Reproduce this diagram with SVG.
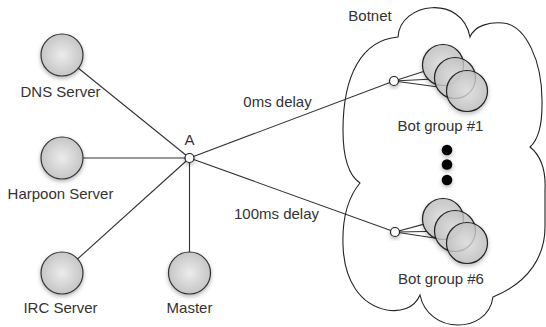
<svg xmlns="http://www.w3.org/2000/svg" width="546" height="327" viewBox="0 0 546 327">
  <defs>
    <radialGradient id="nodeFill" cx="50%" cy="50%" r="55%">
      <stop offset="0" stop-color="#ececec"/>
      <stop offset="1" stop-color="#c2c2c2"/>
    </radialGradient>
    <radialGradient id="botFill" cx="50%" cy="50%" r="55%">
      <stop offset="0" stop-color="#e4e4e4"/>
      <stop offset="1" stop-color="#bdbdbd"/>
    </radialGradient>
    <filter id="shadow" x="-50%" y="-50%" width="200%" height="200%">
      <feDropShadow dx="0" dy="2" stdDeviation="2" flood-color="#000" flood-opacity="0.3"/>
    </filter>
  </defs>
  <style>
    .label { font-family: "Liberation Sans", Arial, Helvetica, sans-serif; font-size: 15px; fill: #333; text-anchor: middle; }
    .node { fill: url(#nodeFill); stroke: #333; stroke-width: 1.2; filter: url(#shadow); }
    .bot { fill: url(#botFill); fill-opacity: 0.8; stroke: #222; stroke-width: 1.2; }
    .hub { fill: #fff; stroke: #222; stroke-width: 1.2; filter: url(#shadow); }
    .link { stroke: #333; stroke-width: 1.1; fill: none; }
    .dot { fill: #000; filter: url(#shadow); }
  </style>
  <rect width="546" height="327" fill="#fff"/>

  <!-- botnet cloud -->
  <g id="botnet">
    <path d="M 398,37 C 400,2 462,-6 470,37 C 475,25 490,22 503,23 C 525,25 543,60 542,105 C 542,125 538,140 530,147 C 540,155 546,170 545,190 L 545,227 C 545,255 530,282 493,297 C 490,318 472,325 458,325 C 440,325 424,314 420,295 C 414,309 400,312 387,310 C 360,305 344,280 343,245 C 342,215 350,195 360,183 C 348,175 343,155 343,130 C 343,75 362,40 398,37 Z" fill="none" stroke="#222" stroke-width="1.1"/>
    <text class="label" x="370" y="21">Botnet</text>
  </g>

  <!-- connectors -->
  <g id="connectors">
    <line class="link" x1="189.5" y1="158" x2="62" y2="55"/>
    <line class="link" x1="189.5" y1="158" x2="62" y2="158"/>
    <line class="link" x1="189.5" y1="158" x2="62" y2="273"/>
    <line class="link" x1="189.5" y1="158" x2="189.5" y2="273"/>
    <line class="link" x1="189.5" y1="158" x2="394" y2="81"/>
    <line class="link" x1="189.5" y1="158" x2="395" y2="232"/>
    <!-- fan-out to bot group #1 -->
    <line class="link" x1="394" y1="81" x2="423.5" y2="71.4"/>
    <line class="link" x1="394" y1="81" x2="428.3" y2="79.3"/>
    <line class="link" x1="394" y1="81" x2="436.5" y2="86.8"/>
    <!-- fan-out to bot group #6 -->
    <line class="link" x1="395" y1="232" x2="423.2" y2="224.4"/>
    <line class="link" x1="395" y1="232" x2="426.7" y2="231.5"/>
    <line class="link" x1="395" y1="232" x2="436" y2="238.3"/>
    <text class="label" x="277.5" y="107">0ms delay</text>
    <text class="label" x="276.5" y="219">100ms delay</text>
  </g>

  <g id="dns">
    <circle class="node" cx="62" cy="55" r="21"/>
    <text class="label" x="60.5" y="97">DNS Server</text>
  </g>
  <g id="harpoon">
    <circle class="node" cx="62" cy="158" r="21"/>
    <text class="label" x="60.5" y="199">Harpoon Server</text>
  </g>
  <g id="irc">
    <circle class="node" cx="62" cy="273" r="21"/>
    <text class="label" x="60.5" y="313">IRC Server</text>
  </g>
  <g id="master">
    <circle class="node" cx="189.5" cy="273" r="21"/>
    <text class="label" x="189.5" y="313">Master</text>
  </g>
  <g id="hubA">
    <circle class="hub" cx="189.5" cy="158" r="4.5"/>
    <text class="label" x="189.5" y="145">A</text>
  </g>

  <g id="group1">
    <circle class="hub" cx="394" cy="81" r="4.5"/>
    <g filter="url(#shadow)">
      <circle class="bot" cx="443" cy="65" r="20.5"/>
      <circle class="bot" cx="455" cy="78" r="20.5"/>
      <circle class="bot" cx="467" cy="91" r="20.5"/>
    </g>
    <text class="label" x="440.5" y="131">Bot group #1</text>
  </g>

  <g id="ellipsis">
    <circle class="dot" cx="447" cy="150" r="5.3"/>
    <circle class="dot" cx="447" cy="164.5" r="5.3"/>
    <circle class="dot" cx="447" cy="180" r="5.3"/>
  </g>

  <g id="group6">
    <circle class="hub" cx="395" cy="232" r="4.5"/>
    <g filter="url(#shadow)">
      <circle class="bot" cx="443" cy="219" r="20.5"/>
      <circle class="bot" cx="455" cy="231" r="20.5"/>
      <circle class="bot" cx="467" cy="243" r="20.5"/>
    </g>
    <text class="label" x="441" y="284">Bot group #6</text>
  </g>
</svg>
